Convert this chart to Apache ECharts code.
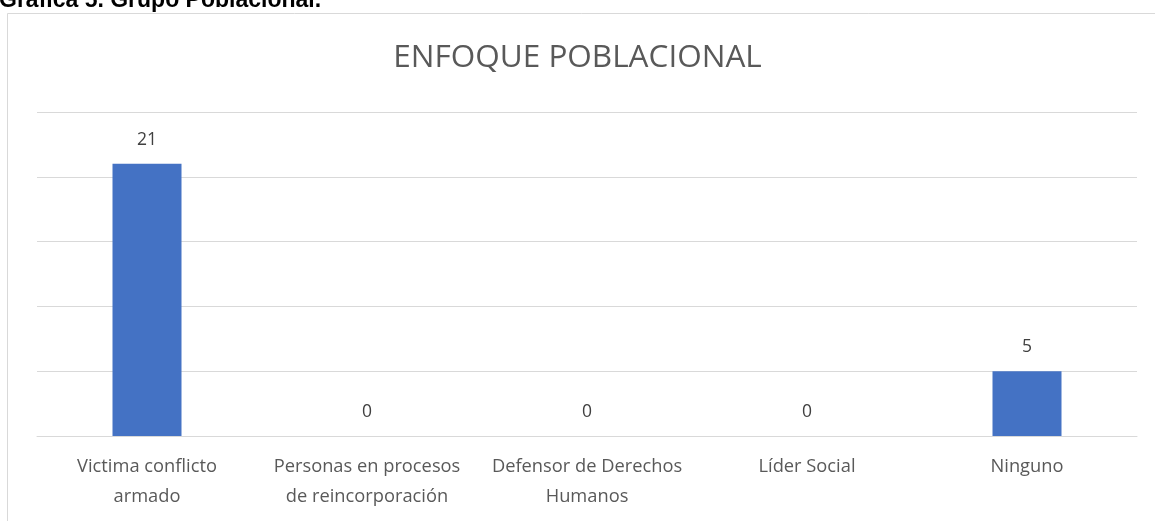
<!DOCTYPE html>
<html>
<head>
<meta charset="utf-8">
<script src="https://cdn.jsdelivr.net/npm/echarts@6/dist/echarts.min.js"></script>
<style>
html,body{margin:0;padding:0;background:#fff;}
#c{width:1155px;height:521px;}
</style>
</head>
<body>
<div id="c"></div>
<script>
const categories = ['Victima conflicto armado', 'Personas en procesos de reincorporación', 'Defensor de Derechos Humanos', 'Líder Social', 'Ninguno'];
const categoryLabels = ['Victima conflicto\narmado', 'Personas en procesos\nde reincorporación', 'Defensor de Derechos\nHumanos', 'Líder Social', 'Ninguno'];
const values = [21, 0, 0, 0, 5];
const chartTitle = 'ENFOQUE POBLACIONAL';
const caption = 'Gráfica 5. Grupo Poblacional.';

const chart = echarts.init(document.getElementById('c'), null, {renderer: 'canvas'});
const font = '"Open Sans", "Noto Sans", sans-serif';
chart.setOption({
  animation: false,
  backgroundColor: '#ffffff',
  textStyle: {fontFamily: font},
  title: {
    text: chartTitle,
    left: 'center',
    top: 37,
    textStyle: {fontFamily: font, fontSize: 31.5, fontWeight: 'normal', color: '#595959'}
  },
  graphic: [
    {type: 'rect', shape: {x: 7.5, y: 13.5, width: 1160, height: 520}, style: {fill: 'none', stroke: '#d9d9d9', lineWidth: 1}, z: -1},
    {type: 'text', left: -1, top: -11, style: {text: caption, font: 'bold 23px "Liberation Sans", Arial, sans-serif', fill: '#000'}}
  ],
  grid: {left: 37, right: 18, top: 112, bottom: 85, containLabel: false},
  xAxis: {
    type: 'category',
    data: categories,
    axisLine: {show: true, lineStyle: {color: '#d9d9d9', width: 1}},
    axisTick: {show: false},
    axisLabel: {
      interval: 0,
      margin: 16,
      color: '#595959',
      fontSize: 18.3,
      fontFamily: font,
      lineHeight: 30,
      formatter: (v, i) => categoryLabels[i]
    }
  },
  yAxis: {
    type: 'value',
    min: 0, max: 25, interval: 5,
    axisLine: {show: false},
    axisTick: {show: false},
    axisLabel: {show: false},
    splitLine: {lineStyle: {color: '#d9d9d9', width: 1}}
  },
  series: [{
    type: 'bar',
    data: values,
    barWidth: 69,
    itemStyle: {color: '#4472c4'},
    label: {show: true, position: 'top', distance: 15, color: '#404040', fontSize: 17.5, fontFamily: font}
  }]
});
</script>
</body>
</html>
